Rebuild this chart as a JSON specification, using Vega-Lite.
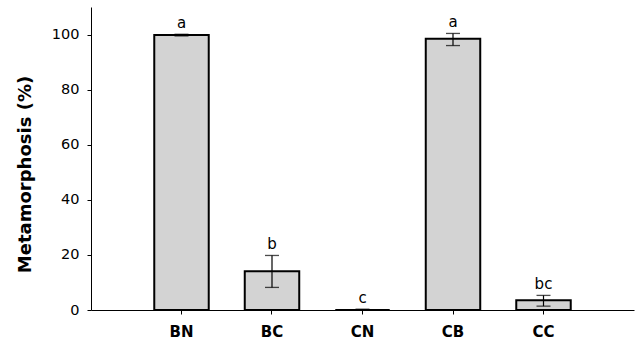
{
  "$schema": "https://vega.github.io/schema/vega-lite/v6.json",
  "width": 543,
  "height": 303,
  "autosize": {"type": "none"},
  "padding": {"left": 91, "top": 7, "right": 1, "bottom": 33},
  "background": "white",
  "config": {
    "view": {"stroke": null},
    "font": "DejaVu Sans",
    "axis": {"grid": false, "domainColor": "black", "tickColor": "black", "labelColor": "black", "titleColor": "black", "domainWidth": 1, "tickWidth": 1}
  },
  "data": {
    "values": [
      {"group": "BN", "mean": 99.8, "lower": 99.5, "upper": 100.1, "letter": "a"},
      {"group": "BC", "mean": 14.1, "lower": 8.2, "upper": 19.8, "letter": "b"},
      {"group": "CN", "mean": 0.0, "lower": 0.0, "upper": 0.3, "letter": "c"},
      {"group": "CB", "mean": 98.5, "lower": 96.0, "upper": 100.4, "letter": "a"},
      {"group": "CC", "mean": 3.5, "lower": 1.4, "upper": 5.3, "letter": "bc"}
    ]
  },
  "encoding": {
    "x": {
      "field": "group",
      "type": "nominal",
      "sort": null,
      "scale": {"paddingInner": 0.398, "paddingOuter": 0.699},
      "axis": {"title": null, "labelAngle": 0, "labelFontSize": 15, "labelFontWeight": "bold", "tickSize": 4, "labelPadding": 10}
    }
  },
  "layer": [
    {
      "mark": {"type": "bar", "fill": "#d3d3d3", "stroke": "black", "strokeWidth": 2},
      "encoding": {
        "y": {
          "field": "mean",
          "type": "quantitative",
          "scale": {"domain": [0, 110], "nice": false},
          "axis": {"title": "Metamorphosis (%)", "titleFontSize": 18, "titleFontWeight": "bold", "titleX": -66, "titleY": 167, "titleAngle": 270, "titleAlign": "center", "titleBaseline": "middle", "values": [0, 20, 40, 60, 80, 100], "labelFontSize": 14.5, "tickSize": 4, "labelPadding": 8}
        }
      }
    },
    {
      "mark": {"type": "rule", "color": "black", "strokeWidth": 1.2},
      "encoding": {
        "y": {"field": "lower", "type": "quantitative"},
        "y2": {"field": "upper"}
      }
    },
    {
      "mark": {"type": "tick", "color": "black", "size": 14, "thickness": 1.3, "orient": "horizontal"},
      "encoding": {"y": {"field": "upper", "type": "quantitative"}}
    },
    {
      "mark": {"type": "tick", "color": "black", "size": 14, "thickness": 1.3, "orient": "horizontal"},
      "encoding": {"y": {"field": "lower", "type": "quantitative"}}
    },
    {
      "mark": {"type": "text", "fontSize": 15, "baseline": "alphabetic", "dy": -6, "color": "black"},
      "encoding": {
        "y": {"field": "upper", "type": "quantitative"},
        "text": {"field": "letter"}
      }
    }
  ]
}
